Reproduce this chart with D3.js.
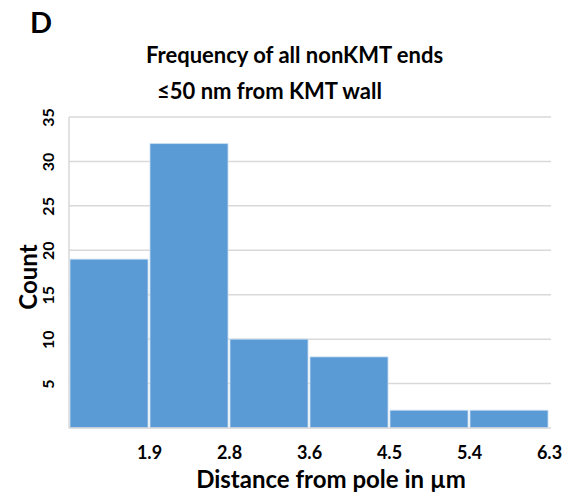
<!DOCTYPE html>
<html>
<head>
<meta charset="utf-8">
<script src="https://cdn.jsdelivr.net/npm/d3@7"></script>
<style>
  body { margin: 0; background: #fff; }
  text { font-family: Lato, "Open Sans", sans-serif; font-weight: bold; fill: #000; }
</style>
</head>
<body>
<div class="chart"></div>
<script>
// histogram bins: right edge of each bin and its count
const binEdges = ["1.9", "2.8", "3.6", "4.5", "5.4", "6.3"];
const counts = [19, 32, 10, 8, 2, 2];
const yTicks = [5, 10, 15, 20, 25, 30, 35];

const W = 569, H = 497;
const margin = {top: 117, right: 18, bottom: 69, left: 69};
const width = W - margin.left - margin.right;
const height = H - margin.top - margin.bottom;

const svg = d3.select(".chart").append("svg")
    .attr("width", W)
    .attr("height", H);

const g = svg.append("g")
    .attr("transform", "translate(" + margin.left + "," + margin.top + ")");

const x = d3.scaleLinear().domain([0, counts.length]).range([0, width - 2]);
const y = d3.scaleLinear().domain([0, 35]).range([height, 0]);

// gridlines
g.selectAll(".grid").data(yTicks).join("line")
    .attr("x1", 0).attr("x2", width)
    .attr("y1", d => y(d)).attr("y2", d => y(d))
    .attr("stroke", "#d9d9d9").attr("stroke-width", 1.5);

// left frame
g.append("line").attr("x1", 0).attr("x2", 0).attr("y1", y(35)).attr("y2", y(0))
    .attr("stroke", "#d9d9d9").attr("stroke-width", 1.5);

// bars
g.selectAll(".bar").data(counts).join("rect")
    .attr("x", (d, i) => x(i) + 1)
    .attr("width", (d, i) => x(i + 1) - x(i) - 2)
    .attr("y", d => y(d))
    .attr("height", d => y(0) - y(d))
    .attr("fill", "#5b9bd5")
    .attr("stroke", "#c6dcf0")
    .attr("stroke-width", 0.8);

// baseline
g.append("line").attr("x1", 0).attr("x2", width).attr("y1", y(0)).attr("y2", y(0))
    .attr("stroke", "#d9d9d9").attr("stroke-width", 1.5);

// x axis: labels at right edge of each bin
const xAxis = d3.axisBottom(x)
    .tickValues(d3.range(1, counts.length + 1))
    .tickFormat(d => binEdges[d - 1])
    .tickSize(0).tickPadding(18);
const gx = g.append("g").attr("transform", "translate(0," + height + ")").call(xAxis);
gx.select(".domain").remove();
gx.selectAll("text").style("font-size", "18px").style("font-family", "Lato, sans-serif");

// y axis: rotated labels
const yAxis = d3.axisLeft(y).tickValues(yTicks).tickSize(0);
const gy = g.append("g").call(yAxis);
gy.select(".domain").remove();
gy.selectAll("text")
    .attr("x", null)
    .attr("text-anchor", "middle")
    .attr("transform", "translate(-21,0) rotate(-90)")
    .attr("dy", "0.35em")
    .style("font-size", "16px").style("font-family", "Lato, sans-serif");

// titles
svg.append("text").attr("x", 30).attr("y", 33).style("font-size", "29px").text("D");
svg.append("text").attr("x", 146).attr("y", 63).style("font-size", "22px")
    .text("Frequency of all nonKMT ends");
svg.append("text").attr("x", 157).attr("y", 99).style("font-size", "22px")
    .text("≤50 nm from KMT wall");

svg.append("text").attr("x", 331).attr("y", 488).attr("text-anchor", "middle")
    .style("font-size", "24px").text("Distance from pole in µm");
svg.append("text").attr("transform", "translate(37,277) rotate(-90)")
    .attr("text-anchor", "middle").style("font-size", "24px").text("Count");
</script>
</body>
</html>
